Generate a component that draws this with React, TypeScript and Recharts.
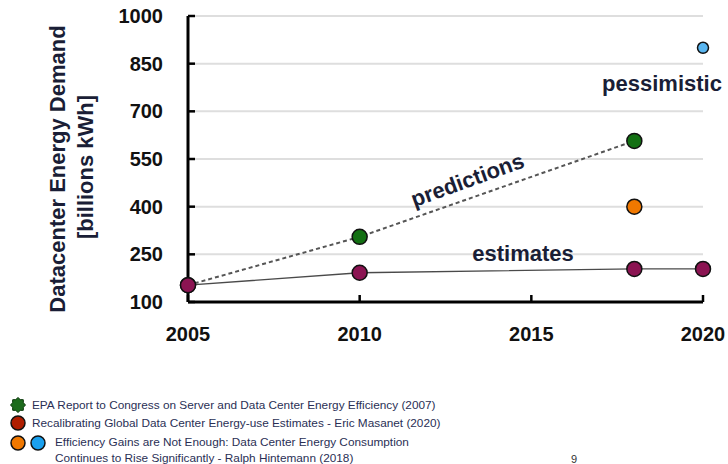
import { LineChart, Line, XAxis, YAxis, ReferenceLine } from "recharts"

// years on the x axis
const estimateYears = [2005, 2010, 2018, 2020]
const estimateValues = [153, 192, 204, 204]
const predictionYears = [2005, 2010, 2018]
const predictionValues = [153, 305, 607]
const hintemannYears = [2018]
const hintemannValues = [400]
const pessimisticYears = [2020]
const pessimisticValues = [900]

const xTicks = [2005, 2010, 2015, 2020]
const yTicks = [100, 250, 400, 550, 700, 850, 1000]
const gridValues = [250, 400, 550, 700, 850, 1000]

const legendItems = [
  "EPA Report to Congress on Server and Data Center Energy Efficiency (2007)",
  "Recalibrating Global Data Center Energy-use Estimates - Eric Masanet (2020)",
  "Efficiency Gains are Not Enough: Data Center Energy Consumption",
  "Continues to Rise Significantly - Ralph Hintemann (2018)",
]

const toPoints = (years: number[], values: number[]) =>
  years.map((year, i) => ({ year, value: values[i] }))

const FONT = "'Liberation Sans', Arial, Helvetica, sans-serif"
const INK = "#1a1e36"

function Splat({ cx, cy, r }: { cx: number; cy: number; r: number }) {
  const pts: string[] = []
  for (let i = 0; i < 16; i++) {
    const a = (Math.PI * 2 * i) / 16
    const rr = i % 2 === 0 ? r : r * 0.78
    pts.push(`${cx + rr * Math.cos(a)},${cy + rr * Math.sin(a)}`)
  }
  return <polygon points={pts.join(" ")} fill="#1d6b1d" stroke="#0d3a0d" strokeWidth={1} />
}

export default function App() {
  const axisTick = { fill: "#111", fontSize: 20, fontWeight: 700, fontFamily: FONT }
  return (
    <div style={{ position: "absolute", left: 0, top: 0, width: 728, height: 464, background: "#fff" }}>
      <LineChart width={728} height={464} margin={{ top: 16, right: 25, bottom: 122, left: 0 }}>
        <XAxis
          type="number"
          dataKey="year"
          domain={[2005, 2020]}
          ticks={xTicks}
          height={40}
          tickSize={-7}
          tickMargin={32}
          axisLine={{ stroke: "#000", strokeWidth: 3 }}
          tickLine={{ stroke: "#000", strokeWidth: 2.5 }}
          tick={axisTick}
        />
        <YAxis
          type="number"
          domain={[100, 1000]}
          ticks={yTicks}
          width={188}
          tickSize={-7}
          tickMargin={32}
          axisLine={{ stroke: "#000", strokeWidth: 3 }}
          tickLine={{ stroke: "#000", strokeWidth: 2.5 }}
          tick={axisTick}
        />
        {gridValues.map((v) => (
          <ReferenceLine key={v} y={v} stroke="#dedede" strokeWidth={2} />
        ))}
        <Line
          data={toPoints(predictionYears, predictionValues)}
          dataKey="value"
          stroke="#555"
          strokeWidth={2}
          strokeDasharray="4 3"
          dot={{ r: 7.5, fill: "#137013", stroke: "#111", strokeWidth: 1.5, strokeDasharray: "0" }}
          isAnimationActive={false}
        />
        <Line
          data={toPoints(estimateYears, estimateValues)}
          dataKey="value"
          stroke="#4a4a4a"
          strokeWidth={1.3}
          dot={{ r: 7.5, fill: "#8b1452", stroke: "#111", strokeWidth: 1.5 }}
          isAnimationActive={false}
        />
        <Line
          data={toPoints(hintemannYears, hintemannValues)}
          dataKey="value"
          stroke="none"
          dot={{ r: 7.5, fill: "#f07800", stroke: "#111", strokeWidth: 1.5 }}
          isAnimationActive={false}
        />
        <Line
          data={toPoints(pessimisticYears, pessimisticValues)}
          dataKey="value"
          stroke="none"
          dot={{ r: 5.5, fill: "#5ab6f0", stroke: "#111", strokeWidth: 1.5 }}
          isAnimationActive={false}
        />
      </LineChart>

      <svg
        width={728}
        height={464}
        style={{ position: "absolute", left: 0, top: 0, pointerEvents: "none" }}
        fontFamily={FONT}
      >
        {/* axis title */}
        <text x={65} y={169} transform="rotate(-90 65 169)" textAnchor="middle" fontSize={22} fontWeight={700} fill={INK}>
          Datacenter Energy Demand
        </text>
        <text x={93} y={167} transform="rotate(-90 93 167)" textAnchor="middle" fontSize={22} fontWeight={700} fill={INK}>
          [billions kWh]
        </text>

        {/* annotations */}
        <text x={470} y={187} transform="rotate(-20 470 187)" textAnchor="middle" fontSize={22} fontWeight={700} fill={INK}>
          predictions
        </text>
        <text x={523} y={261} textAnchor="middle" fontSize={22} fontWeight={700} fill={INK}>
          estimates
        </text>
        <text x={662} y={91} textAnchor="middle" fontSize={22} fontWeight={700} fill={INK}>
          pessimistic
        </text>

        {/* legend */}
        <Splat cx={18} cy={405} r={7.5} />
        <circle cx={18} cy={423} r={7} fill="#b01e00" stroke="#111" strokeWidth={1.5} />
        <circle cx={18} cy={443} r={7} fill="#f07800" stroke="#111" strokeWidth={1.5} />
        <circle cx={38} cy={443} r={7} fill="#1aa0ee" stroke="#111" strokeWidth={1.5} />
        <text x={32} y={409} fontSize={11.8} fill="#2a2f55">{legendItems[0]}</text>
        <text x={32} y={427} fontSize={11.8} fill="#2a2f55">{legendItems[1]}</text>
        <text x={55} y={446} fontSize={11.8} fill="#2a2f55">{legendItems[2]}</text>
        <text x={55} y={462} fontSize={11.8} fill="#2a2f55">{legendItems[3]}</text>
        <text x={574} y={463} textAnchor="middle" fontSize={11} fill="#333">9</text>
      </svg>
    </div>
  )
}
